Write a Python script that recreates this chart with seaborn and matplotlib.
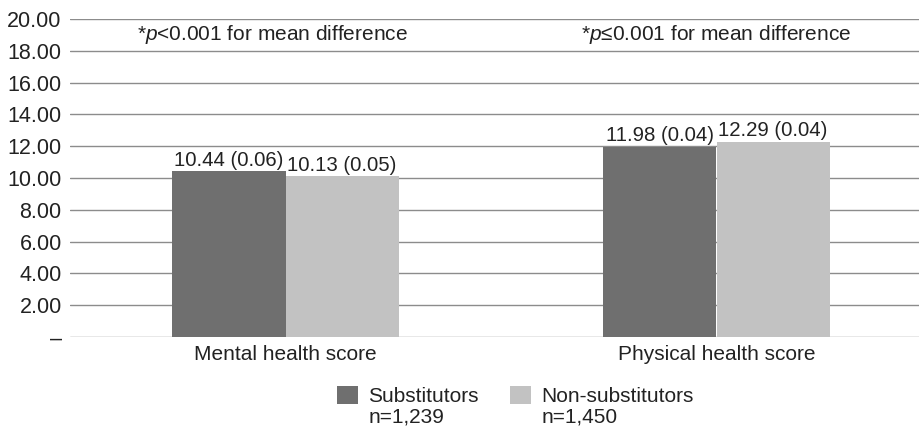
import matplotlib
matplotlib.use('Agg')
import matplotlib.pyplot as plt
import seaborn as sns
import pandas as pd

# Data
categories = ['Mental health score', 'Physical health score']
groups = ['Substitutors', 'Non-substitutors']
sample_sizes = ['n=1,239', 'n=1,450']
substitutors = [10.44, 11.98]
non_substitutors = [10.13, 12.29]
std_errors_sub = [0.06, 0.04]
std_errors_non = [0.05, 0.04]
p_notes = ['*$\\it{p}$<0.001 for mean difference', '*$\\it{p}$≤0.001 for mean difference']
y_ticks = [0, 2, 4, 6, 8, 10, 12, 14, 16, 18, 20]
y_tick_labels = ['–'] + [f'{v:.2f}' for v in y_ticks[1:]]

DARK_GRAY = '#6f6f6f'
LIGHT_GRAY = '#c2c2c2'
GRID_COLOR = '#8c8c8c'
TEXT_COLOR = '#222222'

sns.set_theme(style='white')
plt.rcParams['font.family'] = ['Liberation Sans', 'DejaVu Sans']
plt.rcParams['mathtext.fontset'] = 'custom'
plt.rcParams['mathtext.it'] = 'Liberation Sans:italic'
plt.rcParams['mathtext.rm'] = 'Liberation Sans'

df = pd.DataFrame({
    'category': categories * 2,
    'group': [groups[0]] * 2 + [groups[1]] * 2,
    'score': substitutors + non_substitutors,
})

fig = plt.figure(figsize=(9.2, 4.28), dpi=100)
ax = fig.add_axes([70 / 920, 0.2126, 862 / 920, 0.743])

sns.barplot(data=df, x='category', y='score', hue='group', ax=ax,
            palette=[DARK_GRAY, LIGHT_GRAY], width=0.525, saturation=1,
            edgecolor='none', legend=True)

ax.set_axisbelow(True)
ax.set_ylim(0, 20)
ax.set_xlim(-0.5, 1.5)
ax.set_yticks(y_ticks)
ax.set_yticklabels(y_tick_labels)
ax.yaxis.grid(True, color=GRID_COLOR, lw=1)
ax.tick_params(axis='both', length=0, colors=TEXT_COLOR)
ax.tick_params(axis='y', pad=6, labelsize=15.5)
ax.tick_params(axis='x', pad=6, labelsize=15)
for s in ax.spines.values():
    s.set_visible(False)
ax.set_xlabel('')
ax.set_ylabel('')

# value labels over each bar
sems = [std_errors_sub, std_errors_non]
for cont, errs in zip(ax.containers, sems):
    labels = [f'{b.get_height():.2f} ({e:.2f})' for b, e in zip(cont, errs)]
    ax.bar_label(cont, labels=labels, padding=1, fontsize=14.7, color=TEXT_COLOR)

# significance notes, one above each category
note_shift = [-0.03, 0.0]
for i, (shift, note) in enumerate(zip(note_shift, p_notes)):
    ax.text(i + shift, 19.0, note, ha='center', va='center', fontsize=15, color=TEXT_COLOR)

leg = ax.legend(loc='upper left', bbox_to_anchor=(337 / 920, 0.099), bbox_transform=fig.transFigure,
                ncol=2, frameon=False, fontsize=15, handlelength=1.0, handleheight=1.0,
                columnspacing=1.5, handletextpad=0.5, borderaxespad=0, borderpad=0)
for t in leg.get_texts():
    t.set_color(TEXT_COLOR)

# sample sizes under each legend entry
fig.canvas.draw()
inv = fig.transFigure.inverted()
for t, n in zip(leg.get_texts(), sample_sizes):
    bb = t.get_window_extent().transformed(inv)
    fig.text(bb.x0, bb.y0 - 0.003, n, ha='left', va='top', fontsize=15, color=TEXT_COLOR)

fig.savefig('out.png', dpi=100)
